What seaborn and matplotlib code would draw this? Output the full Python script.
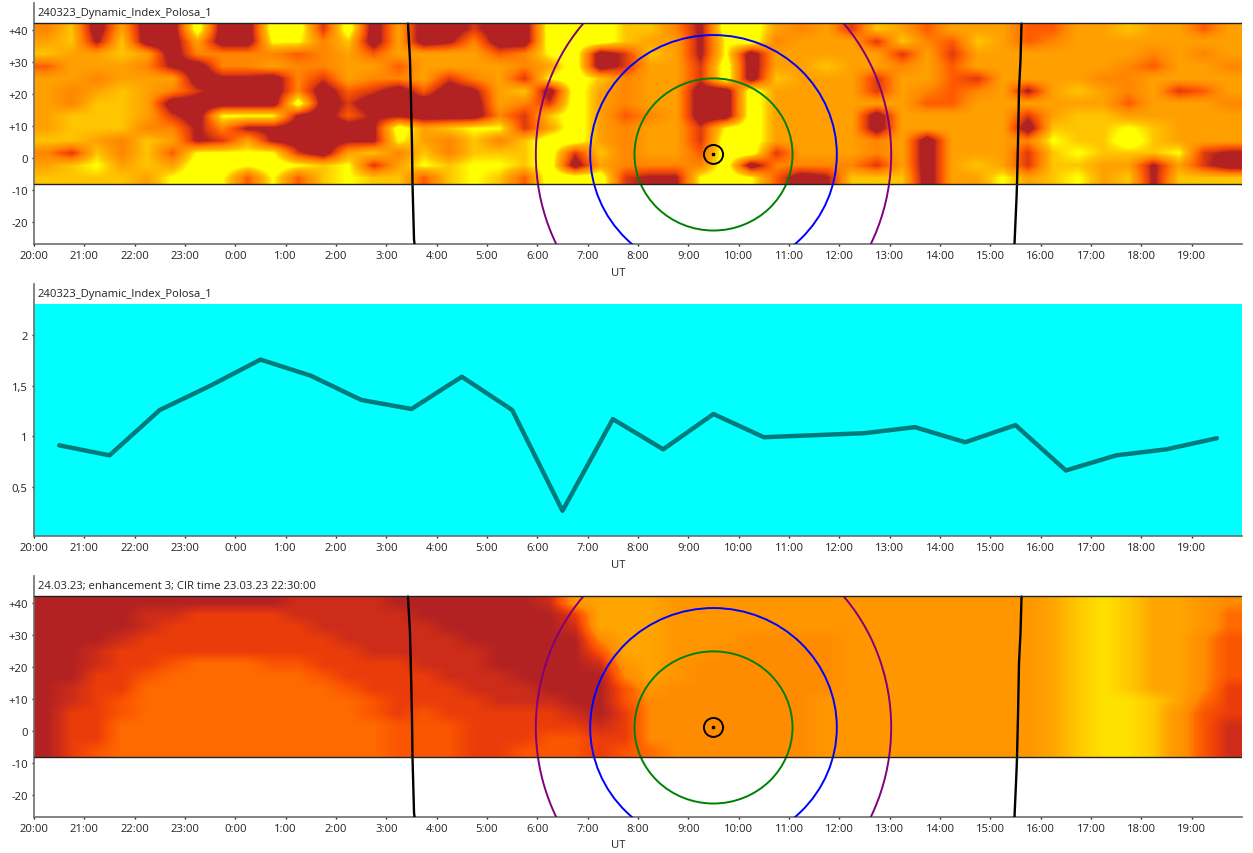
import numpy as np
import pandas as pd
import matplotlib
matplotlib.use("Agg")
import matplotlib.pyplot as plt
from matplotlib.colors import LinearSegmentedColormap
from matplotlib.patches import Ellipse
import seaborn as sns

# eixo x: horas desde 20:00
hour_labels = ["20:00", "21:00", "22:00", "23:00", "0:00", "1:00", "2:00", "3:00", "4:00", "5:00", "6:00", "7:00",
               "8:00", "9:00", "10:00", "11:00", "12:00", "13:00", "14:00", "15:00", "16:00", "17:00", "18:00", "19:00"]
lat_ticks = [40, 30, 20, 10, 0, -10, -20]
lat_labels = ["+40", "+30", "+20", "+10", "0", "-10", "-20"]

# mapas: 13 faixas de latitude, 48 colunas de meia hora, 0 = marrom ... 9 = amarelo
top_rows = [
    "571611911993916113119997" + "752996563764666446676646",
    "672711611885716125119997" + "662895666375476456666666",
    "766761555545646666458913" + "762816666636366666665656",
    "466652155655664666656913" + "663916676656466666654665",
    "665666122153655635638975" + "663917666366436666556666",
    "656765311151431412671965" + "661196666365456267656346",
    "657761111191311111653965" + "661196666664466666646665",
    "677763188821422111537964" + "561196666166666367766666",
    "677755252211129678836965" + "663896666166666177787666",
    "776576236211228657579965" + "663996666561666587797666",
    "537574888831675757779375" + "664993666561666378777832",
    "678676998987836878879165" + "555915555361676377662631",
    "777768984847877478749993" + "228984127771668678672777",
]
bottom_rows = [
    "000000000011110000001677" + "766666666666666678987765",
    "000011222211111000000277" + "766666666666666678987764",
    "000012222221111100000177" + "766666666666666678987764",
    "000122222222111110000057" + "766655556666666678987753",
    "001222222222211111000037" + "766555556666666678987753",
    "001223444332222111000016" + "765555556666666678987753",
    "002234444443222211100005" + "765555556666666678987753",
    "012244444444322221110003" + "655555556666666678987752",
    "012344444444432222111003" + "555555566666666678998742",
    "022344444444432322222102" + "555555566666666678998632",
    "022444444444443332222212" + "555555566666666678998631",
    "022444444444443332223322" + "555555566666666678998631",
    "023444444444443332233323" + "455555566666666678998631",
]

# indice dinamico, um valor por hora (em xx:30)
index_hours = [0.5, 1.5, 2.5, 3.5, 4.5, 5.5, 6.5, 7.5, 8.5, 9.5, 10.5, 11.5,
               12.5, 13.5, 14.5, 15.5, 16.5, 17.5, 18.5, 19.5, 20.5, 21.5, 22.5, 23.5]
index_values = [0.91, 0.81, 1.26, 1.5, 1.76, 1.6, 1.36, 1.27, 1.59, 1.26, 0.26, 1.17,
                0.87, 1.22, 0.99, 1.01, 1.03, 1.09, 0.94, 1.11, 0.66, 0.81, 0.87, 0.98]

# linhas pretas quase verticais (hora, latitude)
term1_hours = [7.43, 7.47, 7.49, 7.51, 7.52, 7.55, 7.56]
term1_lats = [42, 30.8, 18.4, 3.8, -8.1, -25.3, -26.7]
term2_hours = [19.62, 19.60, 19.57, 19.55, 19.53, 19.52, 19.48]
term2_lats = [42, 30.8, 21.5, 5, -8.1, -12.5, -26.7]

# circulos em volta do ponto (9:30, +1): largura em horas, altura em graus
center_hour, center_lat = 13.5, 1.2
ring_widths = [0.38, 3.14, 4.9, 7.06]
ring_heights = [5.9, 47.4, 74.4, 120]
ring_colors = ["black", "green", "blue", "purple"]

W, H = 1253, 854
XL, XR = 34, 1242

sns.set_theme(style="white")
plt.rcParams["font.family"] = ["Open Sans", "DejaVu Sans"]
plt.rcParams["text.color"] = "#222222"
plt.rcParams["xtick.color"] = "#222222"
plt.rcParams["ytick.color"] = "#222222"

# marrom e amarelo saturam, por isso as bordas ficam duras
top_cmap = LinearSegmentedColormap.from_list("top", [
    (0.0, "#b22222"), (2.4 / 9, "#b22222"), (3 / 9, "#dc3c10"), (4 / 9, "#ff5a00"), (5 / 9, "#ff8600"),
    (6 / 9, "#ffa000"), (7 / 9, "#ffc400"), (7.9 / 9, "#ffff00"), (1.0, "#ffff00")])
bottom_cmap = sns.blend_palette(["#b22222", "#cd2d19", "#eb3c0a", "#fa5500", "#ff6a00",
                                 "#ff8c00", "#ff9600", "#ffa500", "#ffc800", "#ffe100"], as_cmap=True)

fig = plt.figure(figsize=(W / 100, H / 100), dpi=100)


def add_panel(top, bottom):
    ax = fig.add_axes([XL / W, 1 - bottom / H, (XR - XL) / W, (bottom - top) / H])
    for side in ["top", "right"]:
        ax.spines[side].set_visible(False)
    for side in ["left", "bottom"]:
        ax.spines[side].set_color("#6e6e6e")
        ax.spines[side].set_linewidth(1.2)
    ax.set_xlim(0, 24)
    ax.set_xticks(range(24))
    ax.set_xticklabels(hour_labels)
    ax.tick_params(axis="both", length=1.5, width=1, labelsize=8.1, pad=3, bottom=True, left=True)
    ax.set_xlabel("UT", fontsize=8.1)
    ax.xaxis.set_label_coords((618 - XL) / (XR - XL), -22.5 / (bottom - top))
    ax.set_ylabel("")
    return ax


def map_panel(rows, cmap, top, bottom, title):
    ax = add_panel(top, bottom)
    grid = pd.DataFrame([[int(c) for c in r] for r in rows])
    ax.imshow(grid.values, extent=(0, 24, -8, 42), origin="upper", aspect="auto", cmap=cmap,
              vmin=0, vmax=9, interpolation="bilinear", zorder=1)
    ax.set_xlim(0, 24)
    ax.set_ylim(-26.7, 42 + 20.5 / 3.21)
    ax.set_yticks(lat_ticks)
    ax.set_yticklabels(lat_labels)
    clip = ax.axhspan(-26.7, 42, facecolor="none", edgecolor="none")
    for w, h, color in zip(ring_widths, ring_heights, ring_colors):
        ring = Ellipse((center_hour, center_lat), w, h, fill=False, edgecolor=color, linewidth=1.4, zorder=3)
        ax.add_patch(ring)
        ring.set_clip_path(clip)
    sns.lineplot(x=term1_hours, y=term1_lats, color="black", linewidth=1.7, ax=ax, zorder=4, sort=False)
    sns.lineplot(x=term2_hours, y=term2_lats, color="black", linewidth=1.7, ax=ax, zorder=4, sort=False)
    ax.plot([center_hour], [center_lat], marker="s", color="black", markersize=2, zorder=5)
    ax.axhline(42, color="#222222", linewidth=1, zorder=5)
    ax.axhline(-8, color="#222222", linewidth=1, zorder=5)
    ax.text(4 / (XR - XL), 1 - 9.5 / (bottom - top), title, transform=ax.transAxes, fontsize=8.1, va="center", ha="left")
    return ax


map_panel(top_rows, top_cmap, 4, 245, "240323_Dynamic_Index_Polosa_1")

# painel do meio
ax2 = add_panel(285, 537)
ax2.set_ylim(0.01, 2.51)
ax2.axhspan(0.01, 2.31, color="#00ffff", linewidth=0, zorder=0)
sns.lineplot(x=index_hours, y=index_values, color="#007a7a", linewidth=3.2, ax=ax2, zorder=2)
ax2.set_xlim(0, 24)
ax2.set_yticks([0.5, 1, 1.5, 2])
ax2.set_yticklabels(["0,5", "1", "1,5", "2"])
ax2.text(4 / (XR - XL), 1 - 9.5 / (537 - 285), "240323_Dynamic_Index_Polosa_1", transform=ax2.transAxes,
         fontsize=8.1, va="center", ha="left")

map_panel(bottom_rows, bottom_cmap, 577, 818, "24.03.23; enhancement 3; CIR time 23.03.23 22:30:00")

fig.savefig("out.png", dpi=100)
